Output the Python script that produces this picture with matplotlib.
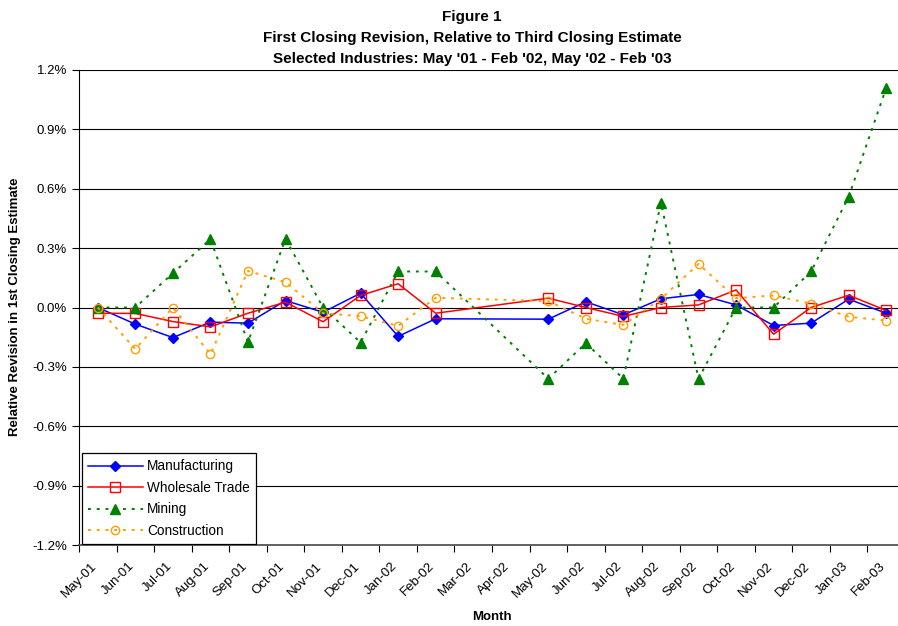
import numpy as np
import matplotlib
matplotlib.use("Agg")
import matplotlib.pyplot as plt
from matplotlib.transforms import ScaledTranslation

plt.rcParams.update({"font.family": ["Liberation Sans", "DejaVu Sans"], "font.size": 9.5})

months = ["May-01", "Jun-01", "Jul-01", "Aug-01", "Sep-01", "Oct-01", "Nov-01", "Dec-01",
          "Jan-02", "Feb-02", "Mar-02", "Apr-02", "May-02", "Jun-02", "Jul-02", "Aug-02",
          "Sep-02", "Oct-02", "Nov-02", "Dec-02", "Jan-03", "Feb-03"]
nan = np.nan
# relative revision, percent
manufacturing = [0.00, -0.084, -0.152, -0.074, -0.079, 0.035, -0.024, 0.072, -0.146, -0.057, nan, nan,
                 -0.059, 0.029, -0.037, 0.044, 0.066, 0.013, -0.091, -0.079, 0.042, -0.029]
wholesale = [-0.029, -0.030, -0.071, -0.098, -0.029, 0.027, -0.072, 0.061, 0.120, -0.029, nan, nan,
             0.047, 0.000, -0.045, 0.000, 0.013, 0.089, -0.135, 0.000, 0.062, -0.015]
mining = [0.000, 0.000, 0.173, 0.345, -0.175, 0.347, 0.000, -0.177, 0.182, 0.182, nan, nan,
          -0.360, -0.180, -0.360, 0.530, -0.360, 0.000, 0.000, 0.182, 0.560, 1.110]
construction = [0.000, -0.210, 0.000, -0.236, 0.185, 0.128, -0.029, -0.044, -0.093, 0.049, nan, nan,
                0.032, -0.057, -0.088, 0.044, 0.220, 0.047, 0.061, 0.019, -0.047, -0.066]

series = [
    ("Manufacturing", manufacturing, dict(color="#0000ff", ls="-", lw=1.1, marker="D", ms=5,
                                          mfc="#0000ff", mec="#0000ff")),
    ("Wholesale Trade", wholesale, dict(color="#ff0000", ls="-", lw=1.1, marker="s", ms=6.5,
                                        mfc="none", mec="#ff0000", mew=1.0)),
    ("Mining", mining, dict(color="#008000", ls=(0, (1.5, 3)), lw=1.4, marker="^", ms=6.5,
                            mfc="#008000", mec="#008000")),
    ("Construction", construction, dict(color="#ffa000", ls=(0, (1.5, 3)), lw=1.4, marker="o", ms=6,
                                        mfc="none", mec="#ffa000", mew=1.0)),
]

fig = plt.figure(figsize=(8.98, 6.26), dpi=100)
ax = fig.add_axes([79 / 898, 1 - 545 / 626, (905 - 79) / 898, (545 - 70) / 626])

x = np.arange(len(months))
for name, vals, style in series:
    v = np.array(vals, dtype=float)
    ok = ~np.isnan(v)
    ax.plot(x[ok], v[ok], label=name, **style)

ax.set_xlim(-0.5, len(months) - 0.5)
ax.set_ylim(-1.2, 1.2)
yt = np.arange(-1.2, 1.21, 0.3)
ax.set_yticks(yt)
ax.set_yticklabels([f"{t:.1f}%" for t in yt])
ax.yaxis.grid(True, color="black", lw=0.8)
ax.set_axisbelow(True)

ax.set_xticks(x)
ax.set_xticklabels(months, rotation=45, ha="right", rotation_mode="anchor")
ax.set_xticks(np.arange(-0.5, len(months)), minor=True)
ax.tick_params(axis="x", which="major", length=0, pad=11)
ax.tick_params(axis="x", which="minor", length=5, width=0.8, direction="out")
ax.tick_params(axis="y", length=5, width=0.8, direction="out")
shift = ScaledTranslation(-7 / 100, 0, fig.dpi_scale_trans)
for lab in ax.get_xticklabels():
    lab.set_transform(lab.get_transform() + shift)

for s in ["top", "right"]:
    ax.spines[s].set_visible(False)
ax.spines["left"].set_color("black")
ax.spines["bottom"].set_color("#555555")
ax.spines["bottom"].set_linewidth(1.3)

fig.text(492 / 898, 1 - 617 / 626, "Month", fontweight="bold", fontsize=9.5,
         ha="center", va="center")
fig.text(15 / 898, 1 - 307 / 626, "Relative Revision in 1st Closing Estimate", rotation=90,
         fontweight="bold", fontsize=9.5, ha="center", va="center")

for i, line in enumerate(["Figure 1", "First Closing Revision, Relative to Third Closing Estimate",
                          "Selected Industries: May '01 - Feb '02, May '02 - Feb '03"]):
    fig.text(472 / 898, 1 - (17 + 21 * i) / 626, line, ha="center", va="center",
             fontweight="bold", fontsize=11)

leg = ax.legend(loc="lower left", bbox_to_anchor=(82 / 898, 1 - 544 / 626),
                bbox_transform=fig.transFigure, fancybox=False, framealpha=1,
                edgecolor="black", fontsize=9.8, handlelength=4, borderaxespad=0,
                labelspacing=0.55, borderpad=0.45, handletextpad=0.35)
leg.get_frame().set_linewidth(0.9)

fig.savefig("out.png", dpi=100)
